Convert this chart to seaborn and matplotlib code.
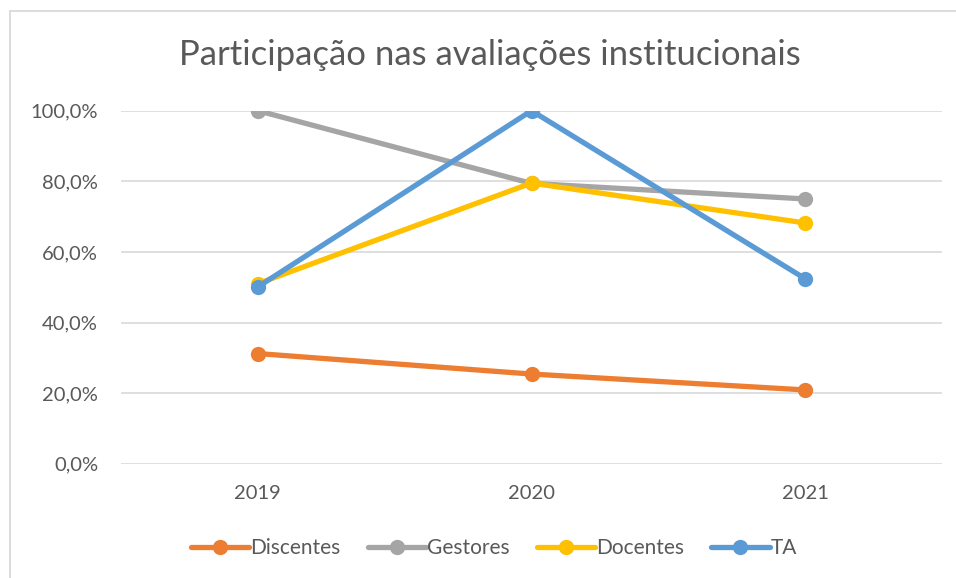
import matplotlib
matplotlib.use("Agg")
import matplotlib.pyplot as plt
import matplotlib.patches as mpatches
import seaborn as sns
import pandas as pd
from matplotlib.ticker import FuncFormatter, MultipleLocator

# Participation rates (%) by group and year
years = ["2019", "2020", "2021"]
discentes = [31.2, 25.4, 20.9]
gestores = [100.0, 79.4, 75.0]
docentes = [51.0, 79.5, 68.2]
ta = [50.1, 100.0, 52.4]

groups = ["Discentes", "Gestores", "Docentes", "TA"]
colors = ["#ED7D31", "#A5A5A5", "#FFC000", "#5B9BD5"]
title = "Participação nas avaliações institucionais"

df = pd.DataFrame({
    "Ano": years * 4,
    "Grupo": [g for g in groups for _ in years],
    "Valor": discentes + gestores + docentes + ta,
})

sns.set_theme(style="white")
plt.rcParams["font.family"] = ["Lato", "DejaVu Sans"]

fig = plt.figure(figsize=(9.56, 5.78), dpi=100)
ax = fig.add_axes([121 / 956, 114.3 / 578, 821 / 956, 353 / 578])

sns.lineplot(
    data=df, x="Ano", y="Valor", hue="Grupo", hue_order=groups,
    palette=colors, marker="o", markersize=11, markeredgewidth=0,
    linewidth=3.8, ax=ax, legend=True, sort=False,
)

ax.set_xlim(-0.5, 2.5)
ax.set_ylim(0, 100)
ax.yaxis.set_major_locator(MultipleLocator(20))
ax.yaxis.set_major_formatter(FuncFormatter(lambda v, p: f"{v:.1f}%".replace(".", ",")))
ax.grid(axis="y", color="#D9D9D9", linewidth=1.2)
ax.set_axisbelow(True)
for s in ax.spines.values():
    s.set_visible(False)
ax.set_xlabel("")
ax.set_ylabel("")
ax.tick_params(axis="both", length=0, labelsize=14.5, colors="#595959")
ax.tick_params(axis="y", pad=16.5)
ax.tick_params(axis="x", pad=15)

fig.text(490 / 956, 1 - 55 / 578, title, fontsize=25, color="#595959",
         ha="center", va="center")

handles, labels = ax.get_legend_handles_labels()
ax.legend(
    handles, labels, loc="center", bbox_to_anchor=(494 / 956, 30 / 578),
    bbox_transform=fig.transFigure, ncol=4, frameon=False, fontsize=15,
    handlelength=2.8, handletextpad=0.05, columnspacing=1.3, labelcolor="#595959",
)

# chart frame
fig.patches.append(mpatches.Rectangle(
    (10 / 956, -0.05), 1.2, (578 - 11) / 578 + 0.05, transform=fig.transFigure,
    fill=False, edgecolor="#D9D9D9", linewidth=1.3,
))

fig.savefig("out.png", dpi=100)
